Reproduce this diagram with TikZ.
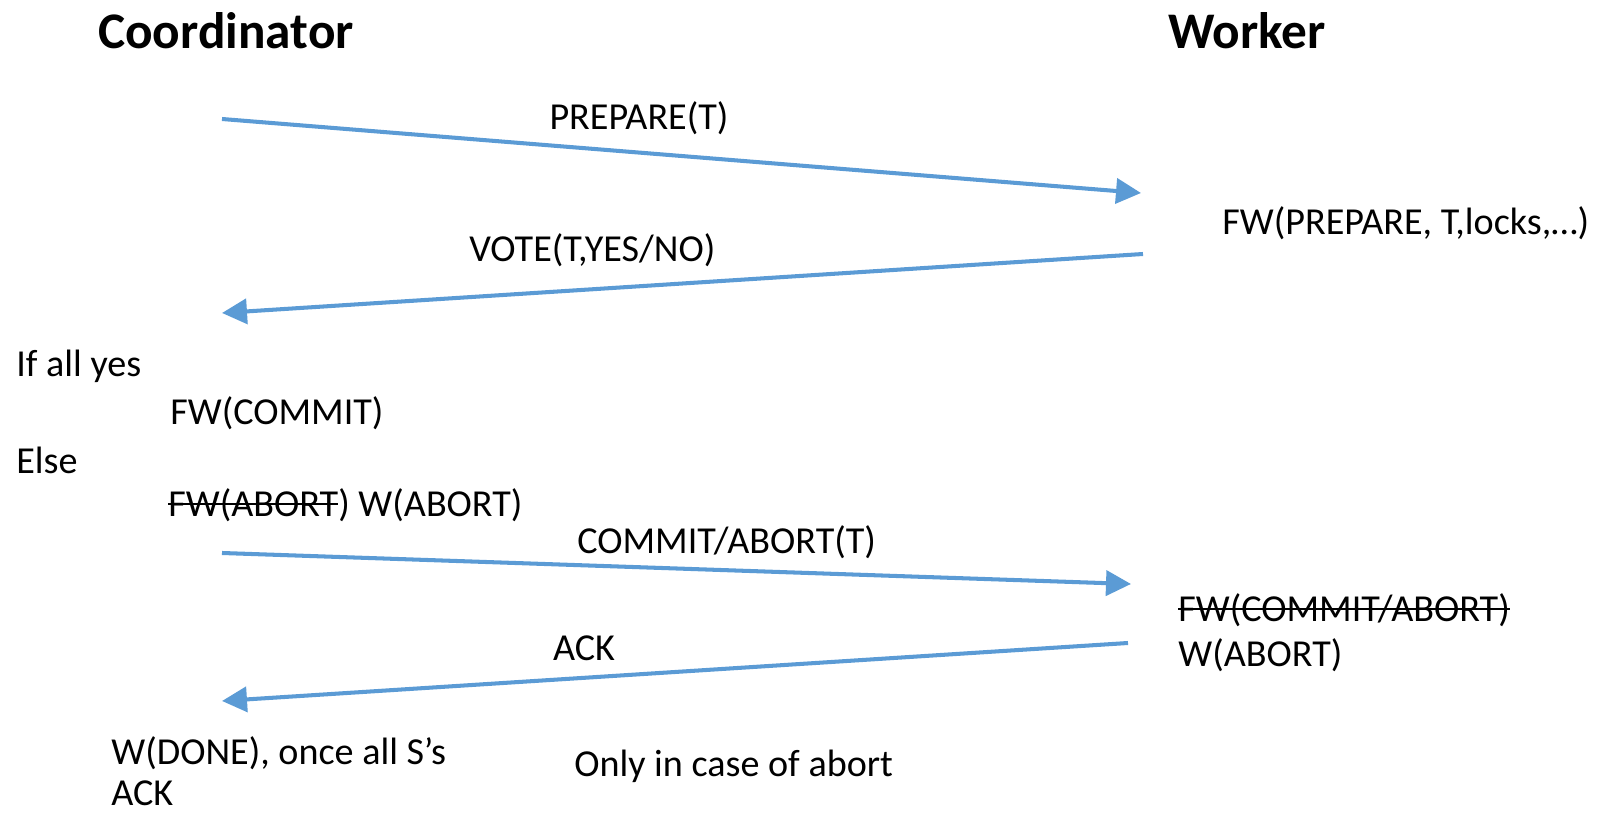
\documentclass[tikz,border=0pt]{standalone}
\usepackage{fontspec}
\setmainfont{Carlito}
\usetikzlibrary{arrows.meta}
\newcommand{\strikeout}[1]{\setbox0\hbox{#1}\rlap{\raisebox{0.3em}{\rule{\wd0}{1pt}}}\box0}
\definecolor{msgblue}{HTML}{5B9BD5}
\tikzset{msg/.style = {draw=msgblue,line width=2.3pt,-{Triangle[length=0.5cm,width=0.5cm]}}}
\tikzset{lbl/.style = {inner sep=0pt,font=\fontsize{21.7}{23.5}\selectfont}}
\tikzset{role/.style = {inner sep=0pt,font=\fontsize{29.2}{32}\selectfont\bfseries}}

\begin{document}
\begin{tikzpicture}[x=0.02cm,y=-0.02cm]
            \useasboundingbox (0,0) rectangle (1597,813);

            % Roles
            \node[role] (coord) at (226,31) {Coordinator};
            \node[role] (work) at (1247,31) {Worker};

            % Message ends
            \coordinate (prepS) at (222,119);
            \coordinate (prepE) at (1141,193);
            \coordinate (voteS) at (1143,254);
            \coordinate (voteE) at (222,313);
            \coordinate (decS) at (222,553);
            \coordinate (decE) at (1131,584);
            \coordinate (ackS) at (1128,643);
            \coordinate (ackE) at (222,701);

            % Labels
            \node[lbl] (prep) at (639,118) {PREPARE(T)};
            \node[lbl,anchor=west] (fwprep) at (1222,223) {FW(PREPARE, T,locks,…)};
            \node[lbl,anchor=west] (vote) at (469,250) {VOTE(T,YES/NO)};
            \node[lbl,anchor=west] (ifyes) at (16,366) {If all yes};
            \node[lbl,anchor=west] (fwcom) at (170,413) {FW(COMMIT)};
            \node[lbl,anchor=west] (else) at (16,460) {Else};
            \node[lbl,anchor=west] (fwabo) at (168,505) {\strikeout{FW(ABORT}) W(ABORT)};
            \node[lbl,anchor=west] (dec) at (577,542) {COMMIT/ABORT(T)};
            \node[lbl,anchor=north west,align=left] (wabo) at (1178,593) {\strikeout{FW(COMMIT/ABORT)}\\[2.5pt]W(ABORT)};
            \node[lbl] (ack) at (584,648) {ACK};
            \node[lbl,anchor=south west,align=left] (done) at (111,806) {W(DONE), once all S’s\\ACK};
            \node[lbl,anchor=west] (only) at (574,766) {Only in case of abort};

            % Arrows
            \draw[msg] (prepS) -- (prepE);
            \draw[msg] (voteS) -- (voteE);
            \draw[msg] (decS) -- (decE);
            \draw[msg] (ackS) -- (ackE);

        \end{tikzpicture}
\end{document}
